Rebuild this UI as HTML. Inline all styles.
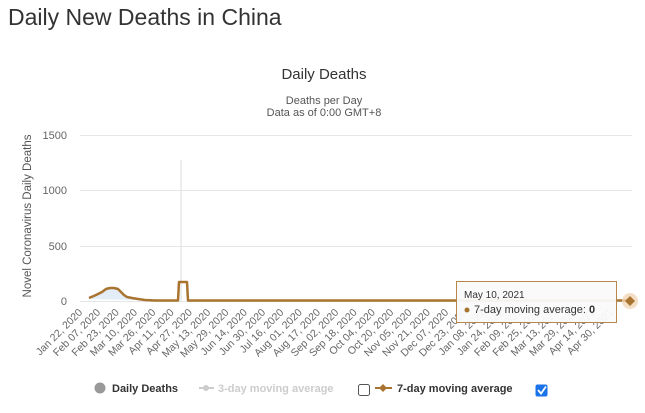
<!DOCTYPE html>
<html><head><meta charset="utf-8"><style>
body{margin:0;background:#fff;width:645px;height:408px;overflow:hidden;font-family:"Liberation Sans",sans-serif}
</style></head><body>
<svg width="645" height="408" xmlns="http://www.w3.org/2000/svg" font-family="Liberation Sans, DejaVu Sans, sans-serif">
<text x="8" y="25" font-size="23" fill="#333">Daily New Deaths in China</text>
<text x="324" y="79" font-size="15" fill="#333" text-anchor="middle">Daily Deaths</text>
<text x="324" y="104" font-size="11" fill="#555" text-anchor="middle">Deaths per Day</text>
<text x="324" y="116" font-size="11" fill="#555" text-anchor="middle">Data as of 0:00 GMT+8</text>
<g stroke="#e6e6e6" stroke-width="1">
<line x1="80" y1="135.5" x2="632" y2="135.5"/><line x1="80" y1="190.5" x2="632" y2="190.5"/><line x1="80" y1="246.5" x2="632" y2="246.5"/><line x1="80" y1="301.5" x2="632" y2="301.5"/>
</g>
<g font-size="11" fill="#666" text-anchor="end">
<text x="67" y="139">1500</text><text x="67" y="194">1000</text><text x="67" y="250">500</text><text x="67" y="305">0</text>
</g>
<text transform="translate(31,216) rotate(-90)" font-size="11.5" fill="#555" text-anchor="middle">Novel Coronavirus Daily Deaths</text>
<line x1="181" y1="160" x2="181" y2="301" stroke="#ddd"/>
<path d="M89,299 L100,294 L106,290 L110,288 L118,289 L122,294 L127,297 L135,299 L145,300 L180,301 L180,301Z" fill="#dbe8f5" opacity="0.8"/>
<polyline fill="none" stroke="#a8742f" stroke-width="2.5" stroke-linejoin="round" points="89,298 96,295 102,292 106,289 110,288 114,288 118,289 121,292 124,295 127,297 132,298 138,299 145,300 155,300.5 178,300.5 179,282 187,282 188,300.5 630,300.5"/>
<g font-size="10.5" fill="#666" text-anchor="end">
<text transform="translate(83,313) rotate(-45)">Jan 22, 2020</text>
<text transform="translate(101,313) rotate(-45)">Feb 07, 2020</text>
<text transform="translate(119.6,313) rotate(-45)">Feb 23, 2020</text>
<text transform="translate(137.9,313) rotate(-45)">Mar 10, 2020</text>
<text transform="translate(156.2,313) rotate(-45)">Mar 26, 2020</text>
<text transform="translate(174.5,313) rotate(-45)">Apr 11, 2020</text>
<text transform="translate(192.8,313) rotate(-45)">Apr 27, 2020</text>
<text transform="translate(211.1,313) rotate(-45)">May 13, 2020</text>
<text transform="translate(229.4,313) rotate(-45)">May 29, 2020</text>
<text transform="translate(247.7,313) rotate(-45)">Jun 14, 2020</text>
<text transform="translate(266,313) rotate(-45)">Jun 30, 2020</text>
<text transform="translate(284.3,313) rotate(-45)">Jul 16, 2020</text>
<text transform="translate(302.6,313) rotate(-45)">Aug 01, 2020</text>
<text transform="translate(320.9,313) rotate(-45)">Aug 17, 2020</text>
<text transform="translate(339.2,313) rotate(-45)">Sep 02, 2020</text>
<text transform="translate(357.5,313) rotate(-45)">Sep 18, 2020</text>
<text transform="translate(375.8,313) rotate(-45)">Oct 04, 2020</text>
<text transform="translate(394.1,313) rotate(-45)">Oct 20, 2020</text>
<text transform="translate(412.4,313) rotate(-45)">Nov 05, 2020</text>
<text transform="translate(430.7,313) rotate(-45)">Nov 21, 2020</text>
<text transform="translate(449,313) rotate(-45)">Dec 07, 2020</text>
<text transform="translate(467.3,313) rotate(-45)">Dec 23, 2020</text>
<text transform="translate(485.6,313) rotate(-45)">Jan 08, 2021</text>
<text transform="translate(503.9,313) rotate(-45)">Jan 24, 2021</text>
<text transform="translate(522.2,313) rotate(-45)">Feb 09, 2021</text>
<text transform="translate(540.5,313) rotate(-45)">Feb 25, 2021</text>
<text transform="translate(558.8,313) rotate(-45)">Mar 13, 2021</text>
<text transform="translate(577.1,313) rotate(-45)">Mar 29, 2021</text>
<text transform="translate(595.4,313) rotate(-45)">Apr 14, 2021</text>
<text transform="translate(613.7,313) rotate(-45)">Apr 30, 2021</text>
</g>
<circle cx="630" cy="301" r="8" fill="#f3d6b8" opacity="0.8"/>
<path d="M630,296 L635,301 L630,306 L625,301Z" fill="#a8742f"/>
<rect x="456.5" y="281.5" width="160" height="41" fill="#fafafa" fill-opacity="0.95" stroke="#b5874a"/>
<text x="464" y="298" font-size="10" fill="#333">May 10, 2021</text>
<circle cx="467" cy="310" r="2.5" fill="#a8742f"/>
<text x="474" y="313" font-size="11" fill="#333">7-day moving average: <tspan font-weight="bold">0</tspan></text>
<circle cx="100" cy="388" r="5.5" fill="#999"/>
<text x="112" y="392" font-size="11" font-weight="bold" fill="#333">Daily Deaths</text>
<line x1="199" y1="388" x2="214" y2="388" stroke="#ccc" stroke-width="2"/><circle cx="206" cy="388" r="3" fill="#ccc"/>
<text x="218" y="392" font-size="11" font-weight="bold" fill="#ccc">3-day moving average</text>
<rect x="358.5" y="384.5" width="11" height="11" rx="2" fill="#fff" stroke="#555"/>
<line x1="375" y1="388" x2="392" y2="388" stroke="#a8742f" stroke-width="2"/><path d="M383,384 L387,388 L383,392 L379,388Z" fill="#a8742f"/>
<text x="397" y="392" font-size="11" font-weight="bold" fill="#333">7-day moving average</text>
<rect x="535.5" y="384.5" width="12" height="12" rx="2" fill="#1a73e8"/>
<path d="M538,390 L541,393.5 L546,386.5" fill="none" stroke="#fff" stroke-width="1.8"/>
</svg>
</body></html>
